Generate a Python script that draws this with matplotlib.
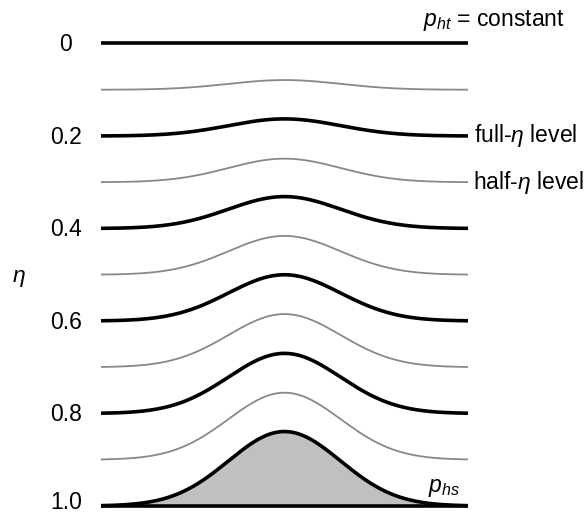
import numpy as np
import matplotlib
matplotlib.use("Agg")
import matplotlib.pyplot as plt

plt.rcParams["font.family"] = ["Liberation Sans", "DejaVu Sans"]
plt.rcParams["mathtext.fontset"] = "custom"
plt.rcParams["mathtext.rm"] = "Liberation Sans"
plt.rcParams["mathtext.it"] = "Liberation Sans:italic"

# Nominal eta of each level (top = 0, surface = 1)
eta_levels = [0.0, 0.1, 0.2, 0.3, 0.4, 0.5, 0.6, 0.7, 0.8, 0.9, 1.0]
# Eta reached by each level directly above the mountain top
eta_over_peak = [0.0, 0.079, 0.163, 0.249, 0.331, 0.416, 0.500, 0.585, 0.670, 0.755, 0.839]
# Full levels are drawn thick black, half levels thin grey
is_full = [True, False, True, False, True, False, True, False, True, False, True]
tick_values = [0.0, 0.2, 0.4, 0.6, 0.8, 1.0]
tick_labels = ["0", "0.2", "0.4", "0.6", "0.8", "1.0"]

# Horizontal coordinate and bell-shaped mountain profile (unit height)
x = np.linspace(-1.0, 1.0, 600)
bump_width = 0.305
profile = np.exp(-x**2 / (2 * bump_width**2))

W, H = 587, 514
fig = plt.figure(figsize=(W / 100, H / 100), dpi=100)
left, right, top, bottom = 101, 468, 43.5, 506
ax = fig.add_axes([left / W, (H - bottom) / H, (right - left) / W, (bottom - top) / H])
ax.set_xlim(-1, 1)
ax.set_ylim(1.0, 0.0)
ax.axis("off")

for eta, peak, full in zip(eta_levels, eta_over_peak, is_full):
    y = eta - (eta - peak) * profile
    if eta == 1.0:
        ax.fill_between(x, y, 1.0, color="#c0c0c0", lw=0, zorder=1)
        ax.plot(x, np.full_like(x, 1.0), color="black", lw=2.6,
                solid_capstyle="butt", clip_on=False, zorder=3)
    if full:
        ax.plot(x, y, color="black", lw=2.6, solid_capstyle="butt",
                clip_on=False, zorder=3)
    else:
        ax.plot(x, y, color="#888888", lw=1.3, solid_capstyle="butt",
                clip_on=False, zorder=2)

FS = 16.5

# Tick labels on the left, digits centred on their level line
for v, lab in zip(tick_values, tick_labels):
    dy = -7.8 if v < 1.0 else -3.0
    ax.annotate(lab, xy=(0, v), xycoords=("axes fraction", "data"),
                xytext=(66 - left, dy), textcoords="offset pixels",
                ha="center", va="baseline", fontsize=FS)

ax.annotate(r"$\eta$", xy=(0, 0.5), xycoords=("axes fraction", "data"),
            xytext=(19 - left, -3), textcoords="offset pixels",
            ha="center", va="center", fontsize=FS)

# Annotations on the right
ax.annotate(r"$p_{ht}$ = constant", xy=(1, -0.05), xycoords=("axes fraction", "data"),
            xytext=(423 - right, 0), textcoords="offset pixels",
            ha="left", va="center", fontsize=FS)
ax.annotate(r"full-$\eta$ level", xy=(1, 0.2), xycoords=("axes fraction", "data"),
            xytext=(474 - right, 0), textcoords="offset pixels",
            ha="left", va="center", fontsize=FS)
ax.annotate(r"half-$\eta$ level", xy=(1, 0.3), xycoords=("axes fraction", "data"),
            xytext=(473 - right, 0), textcoords="offset pixels",
            ha="left", va="center", fontsize=FS)
ax.annotate(r"$p_{hs}$", xy=(1, 0.96), xycoords=("axes fraction", "data"),
            xytext=(428 - right, 0), textcoords="offset pixels",
            ha="left", va="center", fontsize=FS)

fig.savefig("out.png", dpi=100)
